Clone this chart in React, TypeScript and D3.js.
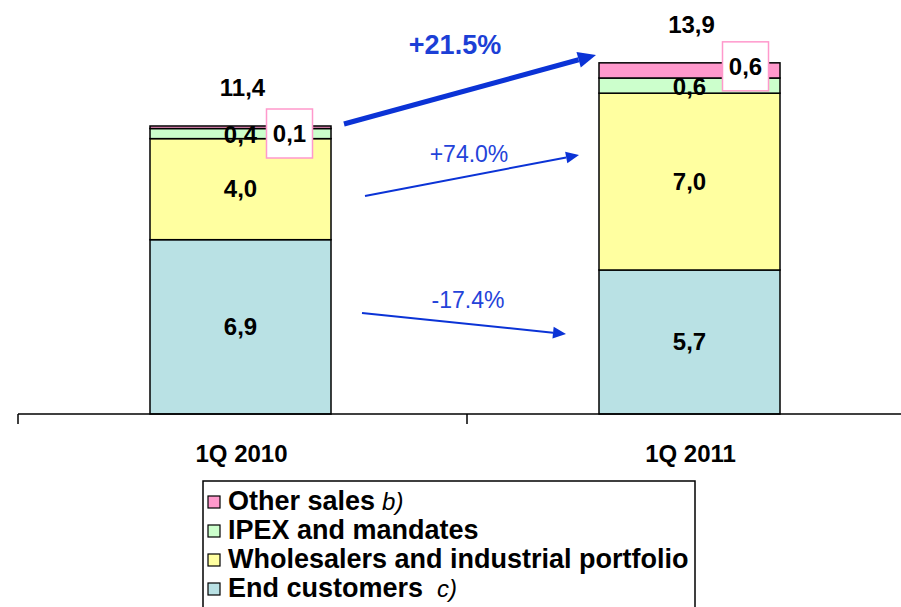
import * as d3 from 'd3';

// stacked values, bottom to top
const periods = ['1Q 2010', '1Q 2011'];
const seriesNames = ['End customers', 'Wholesalers and industrial portfolio', 'IPEX and mandates', 'Other sales'];
const endCustomers = [6.9, 5.7];
const wholesalers = [4.0, 7.0];
const ipex = [0.4, 0.6];
const otherSales = [0.1, 0.6];
const totals = [11.4, 13.9];
const seriesColors = ['#b9e1e4', '#ffffa0', '#ccffcc', '#ff99cc'];
const legendNotes = ['c)', '', '', 'b)'];
const changes = ['+21.5%', '+74.0%', '-17.4%'];

const W = 901;
const H = 607;
const fmt = (v: number) => v.toFixed(1).replace('.', ',');
const FONT = 'Liberation Sans, Arial, sans-serif';
const BLUE = '#0b33d6';

const App = () => {
  const x = d3.scaleBand<string>().domain(periods).range([18, 916]).paddingInner(0).paddingOuter(0);
  const barW = 181;
  const y = d3.scaleLinear().domain([0, 11.4]).range([414, 126]);

  const rows = periods.map((p, i) => ({
    period: p,
    'End customers': endCustomers[i],
    'Wholesalers and industrial portfolio': wholesalers[i],
    'IPEX and mandates': ipex[i],
    'Other sales': otherSales[i],
  }));
  const stacked = d3.stack<any>().keys(seriesNames)(rows);

  const cx = (p: string) => (x(p) as number) + x.bandwidth() / 2 - 2;

  // arrows between the two bars, labelled with the change
  const arrows = [
    { from: [344, 124], to: [596, 55], w: 5, head: 18, label: changes[0], lx: 455, ly: 54, bold: true, size: 27 },
    { from: [365, 196], to: [579, 155], w: 2, head: 13, label: changes[1], lx: 469, ly: 162, bold: false, size: 23 },
    { from: [362, 313], to: [566, 334], w: 2, head: 13, label: changes[2], lx: 468, ly: 308, bold: false, size: 23 },
  ];

  const arrowPath = (a: any) => {
    const [x1, y1] = a.from;
    const [x2, y2] = a.to;
    const ang = Math.atan2(y2 - y1, x2 - x1);
    const bx = x2 - a.head * Math.cos(ang);
    const by = y2 - a.head * Math.sin(ang);
    const hw = a.head * 0.45;
    const p1 = [bx + hw * Math.sin(ang), by - hw * Math.cos(ang)];
    const p2 = [bx - hw * Math.sin(ang), by + hw * Math.cos(ang)];
    return { line: [x1, y1, bx, by], head: `M${x2},${y2}L${p1[0]},${p1[1]}L${p2[0]},${p2[1]}Z` };
  };

  const legendY = [510, 539, 568, 597];

  return (
    <svg width={W} height={H} style={{ position: 'absolute', left: 0, top: 0, background: '#fff' }} fontFamily={FONT}>
      {stacked.map((s, si) => (
        <g key={s.key}>
          {s.map((d, i) => (
            <rect
              key={i}
              x={cx(periods[i]) - barW / 2}
              y={y(d[1])}
              width={barW}
              height={y(d[0]) - y(d[1])}
              fill={seriesColors[si]}
              stroke="#000"
              strokeWidth={1.5}
            />
          ))}
        </g>
      ))}

      {/* axis */}
      <line x1={18} x2={W} y1={414} y2={414} stroke="#000" strokeWidth={1.5} />
      {[18, 467].map((t) => (
        <line key={t} x1={t} x2={t} y1={414} y2={424} stroke="#000" strokeWidth={1.5} />
      ))}
      {periods.map((p) => (
        <text key={p} x={cx(p) + 1} y={462} textAnchor="middle" fontWeight="bold" fontSize={24}>
          {p}
        </text>
      ))}

      {/* segment labels */}
      {periods.map((p, i) => {
        const c = cx(p);
        const ec = stacked[0][i];
        const wh = stacked[1][i];
        const ip = stacked[2][i];
        return (
          <g key={p} fontWeight="bold" fontSize={24} textAnchor="middle">
            <text x={c} y={(y(ec[0]) + y(ec[1])) / 2 + 8}>{fmt(endCustomers[i])}</text>
            <text x={c} y={(y(wh[0]) + y(wh[1])) / 2 + 8}>{fmt(wholesalers[i])}</text>
            <text x={c} y={(y(ip[0]) + y(ip[1])) / 2 + 9}>{fmt(ipex[i])}</text>
            <text x={c + 2} y={y(totals[i]) - 30}>{fmt(totals[i])}</text>
          </g>
        );
      })}

      {/* boxed other sales labels */}
      {periods.map((p, i) => {
        const bx = cx(p) + (i === 0 ? 26 : 33);
        const by = y(totals[i]) - (i === 0 ? 17 : 21);
        return (
          <g key={p}>
            <rect x={bx} y={by} width={46} height={49} fill="#fff" stroke="#ff99cc" strokeWidth={1.5} />
            <text x={bx + 23} y={by + 33} textAnchor="middle" fontWeight="bold" fontSize={24}>
              {fmt(otherSales[i])}
            </text>
          </g>
        );
      })}

      {/* change arrows */}
      {arrows.map((a) => {
        const p = arrowPath(a);
        return (
          <g key={a.label}>
            <line x1={p.line[0]} y1={p.line[1]} x2={p.line[2]} y2={p.line[3]} stroke={BLUE} strokeWidth={a.w} />
            <path d={p.head} fill={BLUE} />
            <text x={a.lx} y={a.ly} textAnchor="middle" fill={a.bold ? '#1c3fd6' : '#2443d9'} fontWeight={a.bold ? 'bold' : 'normal'} fontSize={a.size}>
              {a.label}
            </text>
          </g>
        );
      })}

      {/* legend */}
      <rect x={203} y={481} width={492} height={140} fill="#fff" stroke="#000" strokeWidth={1.5} />
      {[3, 2, 1, 0].map((si, r) => (
        <g key={si}>
          <rect x={208} y={legendY[r] - 14} width={12} height={12} fill={seriesColors[si]} stroke="#000" strokeWidth={1.2} />
          <text x={228} y={legendY[r]} fontSize={27} fontWeight="bold">
            {seriesNames[si]}
            {legendNotes[si] && (
              <tspan fontWeight="normal" fontStyle="italic" fontSize={24} dx={si === 0 ? 14 : 7}>
                {legendNotes[si]}
              </tspan>
            )}
          </text>
        </g>
      ))}
    </svg>
  );
};

export default App;
